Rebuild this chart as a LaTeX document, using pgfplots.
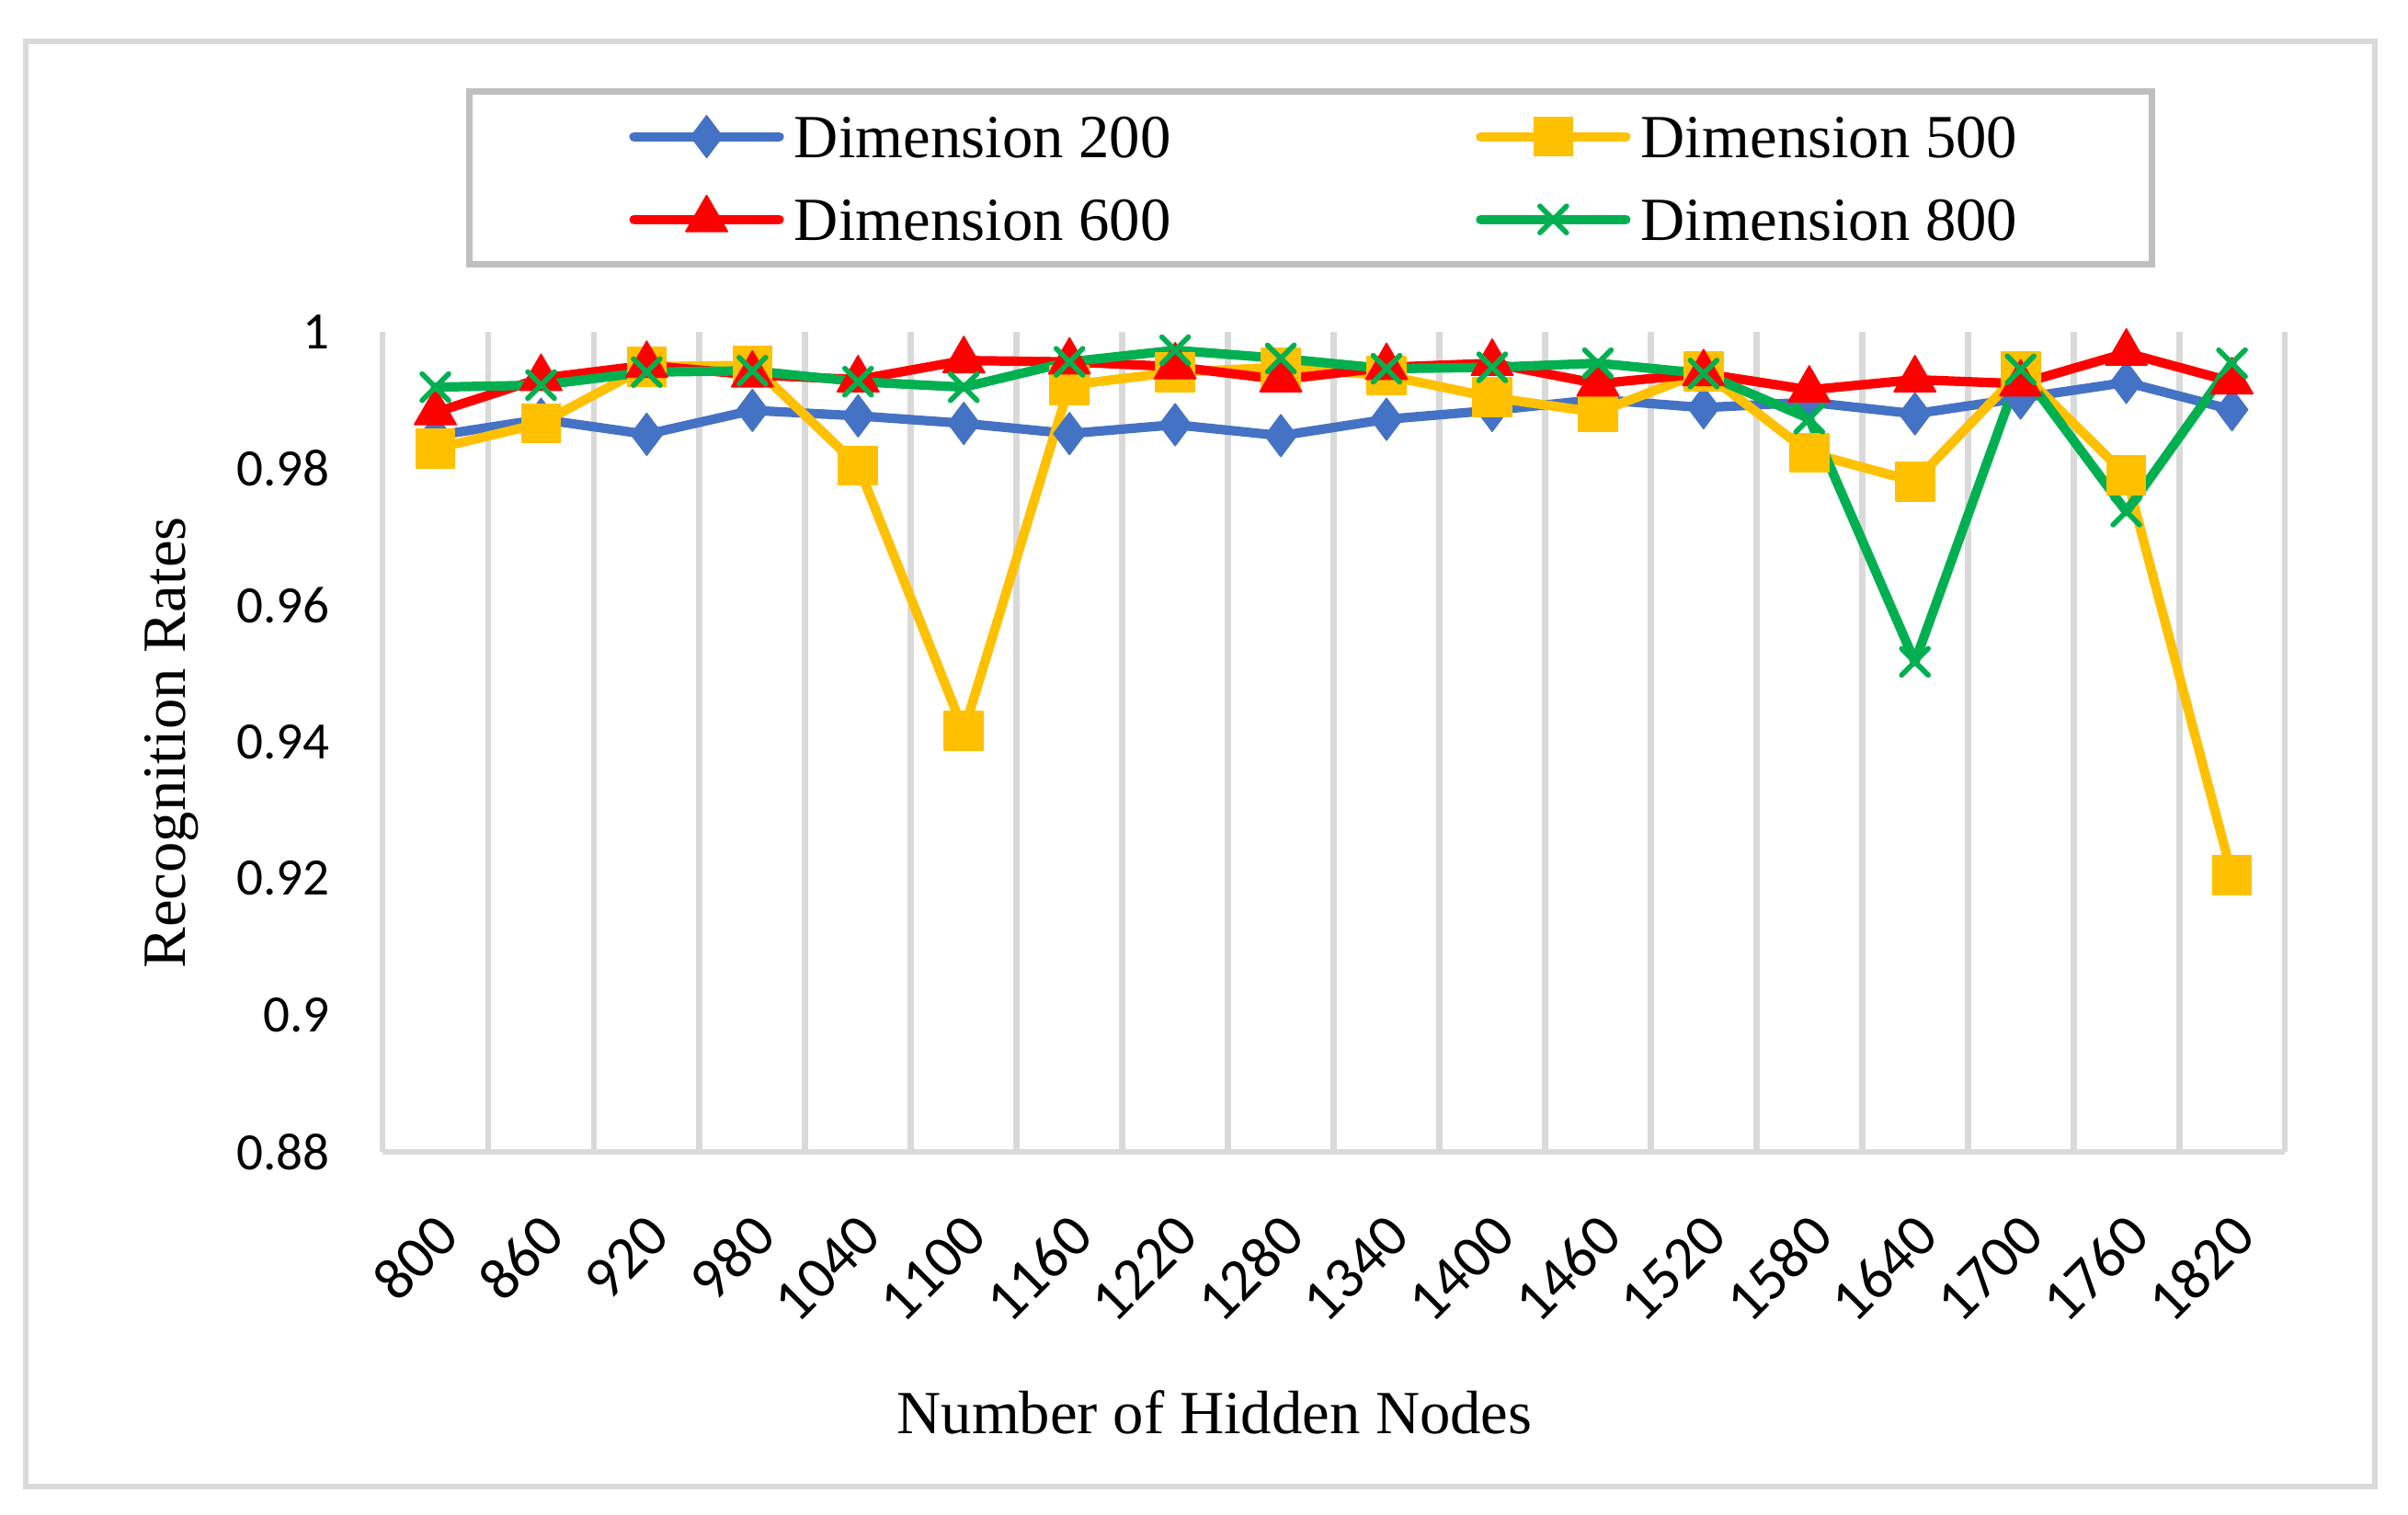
\documentclass[border=0pt]{standalone}
\usepackage{pgfplots}
\pgfplotsset{compat=1.18}
\usepackage{fontspec}
\setmainfont{Liberation Serif}
\newfontfamily\tickfont{Carlito}

\definecolor{cblue}{HTML}{4472C4}
\definecolor{cyellow}{HTML}{FFC000}
\definecolor{cred}{HTML}{FF0000}
\definecolor{cgreen}{HTML}{00B050}
\definecolor{gridgray}{HTML}{D9D9D9}
\definecolor{leggray}{HTML}{BFBFBF}

\tikzset{serie/.style={line width=0.09cm, line join=round, line cap=round}}

\begin{document}
\begin{tikzpicture}
\path[use as bounding box] (0,0) rectangle (23.047cm,-14.502cm);
\draw[draw=gridgray, line width=0.05cm] (0.246cm,-0.396cm) rectangle (22.730cm,-14.230cm);
\begin{axis}[
    at={(3.661cm,-11.026cm)}, anchor=south west,
    scale only axis, width=18.207cm, height=7.85cm,
    xmin=-0.5, xmax=17.5, ymin=0.88, ymax=1,
    xtick={0,...,17},
    xticklabels={800,860,920,980,1040,1100,1160,1220,1280,1340,1400,1460,1520,1580,1640,1700,1760,1820},
    ytick={0.88,0.90,0.92,0.94,0.96,0.98,1},
    yticklabels={0.88,0.9,0.92,0.94,0.96,0.98,1},
    minor xtick={-0.5,0.5,...,17.5},
    xminorgrids,
    minor grid style={draw=gridgray, line width=0.06cm},
    major tick length=0pt, minor tick length=0pt,
    axis x line*=bottom, axis y line*=left,
    y axis line style={draw=none},
    x axis line style={-, draw=gridgray, line width=0.06cm},
    /pgf/number format/assume math mode=true,
    tick label style={font=\tickfont\fontsize{14.3}{17}\selectfont},
    yticklabel style={inner sep=0pt},
    yticklabel shift=0.5cm,
    xticklabel style={inner sep=0pt, font=\tickfont\fontsize{16.3}{19}\selectfont, xshift=0.12cm, rotate=45, anchor=east},
    xticklabel shift=0.7cm,
    xlabel={Number of Hidden Nodes},
    ylabel={Recognition Rates},
    label style={font=\fontsize{16.7}{20}\selectfont},
    xlabel style={at={(axis description cs:0.4374,-0.3173)}, anchor=center},
    ylabel style={at={(axis description cs:-0.111,0.4989)}, anchor=center},
    legend columns=2,
    legend image code/.code={\path (-0.24cm,0cm);
        \draw[mark repeat=2,mark phase=2] plot coordinates {(0cm,0cm) (0.695cm,0cm) (1.39cm,0cm)};},
    legend style={at={(0.488,1.1875)}, anchor=center, draw=leggray, line width=0.06cm,
        inner xsep=1.29cm, inner ysep=0.23cm, row sep=0.36cm,
        font=\fontsize{16.7}{20}\selectfont,
        nodes={inner sep=0pt, text height=0.405cm, text depth=0pt},
        /tikz/every odd column/.append style={column sep=0.1cm},
        /tikz/every even column/.append style={column sep=2.68cm}},
]
\addplot[color=cblue, serie,
    mark=diamond*, mark size=0.2cm, mark options={line width=0.4pt, fill=cblue}] coordinates {
(0,0.9848) (1,0.9872) (2,0.9850) (3,0.9885) (4,0.9877) (5,0.9866) (6,0.9851) (7,0.9864) (8,0.9848)
(9,0.9872) (10,0.9885) (11,0.9901) (12,0.9889) (13,0.9897) (14,0.9880) (15,0.9903) (16,0.9926) (17,0.9886)};
\addlegendentry{Dimension 200}
\addplot[color=cyellow, serie,
    mark=square*, mark size=0.185cm, mark options={line width=0.4pt, fill=cyellow}] coordinates {
(0,0.9829) (1,0.9866) (2,0.9949) (3,0.9951) (4,0.9804) (5,0.9416) (6,0.9922) (7,0.9941) (8,0.9948)
(9,0.9936) (10,0.9904) (11,0.9882) (12,0.9942) (13,0.9823) (14,0.9781) (15,0.9942) (16,0.9790) (17,0.9205)};
\addlegendentry{Dimension 500}
\addplot[color=cred, serie,
    mark=triangle*, mark size=0.23cm, mark options={line width=0.4pt, fill=cred}] coordinates {
(0,0.9882) (1,0.9932) (2,0.9951) (3,0.9937) (4,0.9930) (5,0.9958) (6,0.9956) (7,0.9949) (8,0.9930)
(9,0.9948) (10,0.9954) (11,0.9924) (12,0.9939) (13,0.9915) (14,0.9930) (15,0.9924) (16,0.9969) (17,0.9927)};
\addlegendentry{Dimension 600}
\addplot[color=cgreen, serie,
    mark=x, mark size=0.18cm, mark options={line width=0.05cm}] coordinates {
(0,0.9919) (1,0.9922) (2,0.9941) (3,0.9943) (4,0.9927) (5,0.9919) (6,0.9956) (7,0.9973) (8,0.9961)
(9,0.9946) (10,0.9948) (11,0.9954) (12,0.9939) (13,0.9873) (14,0.9517) (15,0.9945) (16,0.9737) (17,0.9954)};
\addlegendentry{Dimension 800}
\end{axis}
\end{tikzpicture}
\end{document}
